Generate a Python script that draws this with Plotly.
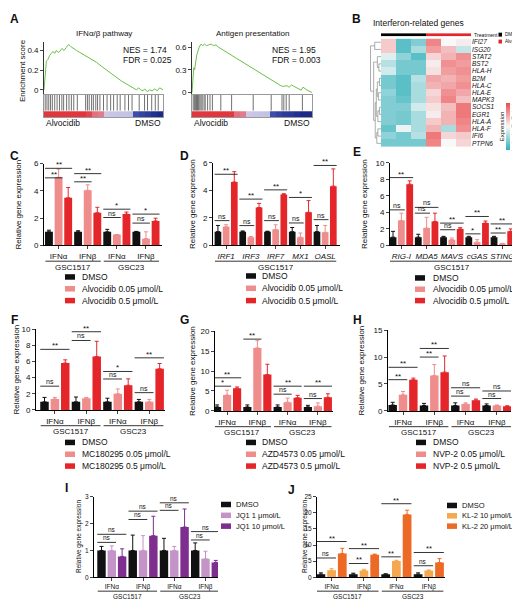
import plotly.graph_objects as go

W, H = 520, 599
FONT = 'Liberation Sans, Arial, sans-serif'

# ---------------- data ----------------
# A: GSEA running enrichment score (rank position in %, ES) and hit positions
ifn_pos = [0, 0.6, 1.4, 2.0, 3.4, 4.8, 6.2, 7.6, 9.0, 10.4, 11.8, 13.2, 15.1, 16.8, 18.8, 20.7, 22.4, 24.4,
           27.2, 30.0, 32.8, 34.7, 37.0, 39.8, 44.0, 48.2, 53.8, 59.4, 65.0, 70.6, 74.8, 77.6, 79.6, 81.2,
           83.2, 84.6, 86.8, 88.8, 90.8, 93.0, 95.2, 97.2, 100]
ifn_es = [0, 0.08, 0.25, 0.29, 0.31, 0.35, 0.37, 0.39, 0.37, 0.40, 0.38, 0.39, 0.42, 0.40, 0.43, 0.46, 0.44, 0.42,
          0.40, 0.38, 0.36, 0.34, 0.33, 0.31, 0.28, 0.24, 0.19, 0.14, 0.09, 0.05, 0.02, 0.0, 0.02, 0.0,
          -0.01, 0.01, -0.02, 0.0, -0.01, 0.01, -0.01, 0.02, 0.0]
ifn_hits = [1, 2.5, 4, 5.5, 7, 9, 11, 13, 15, 16.5, 19, 21, 23, 25, 28, 35, 36.5, 38, 40, 41.5, 43.5, 45, 47,
            50, 53, 56, 58.5, 61.5, 64, 68, 71, 74, 80, 84.5, 87, 90.5, 93.5, 96]
ifn_rank = [3, 3, 3, 3, 3, 3, 3, 2.2, 1.2, 1.0, -0.6, -0.7, -0.8, -0.8, -0.9, -2.0, -2.3, -2.5, -2.8, -3]

ag_pos = [0, 0.8, 1.5, 2.2, 3, 4, 5, 6, 7.5, 9, 10.5, 12, 14, 16, 18, 20, 22, 25, 30, 35, 40, 45, 50, 55,
          60, 65, 70, 74, 76, 79, 81, 83, 85, 88, 91, 92.5, 96, 100]
ag_es = [0, 0.2, 0.33, 0.3, 0.42, 0.5, 0.55, 0.6, 0.64, 0.62, 0.64, 0.62, 0.63, 0.64, 0.62, 0.63, 0.6, 0.57,
         0.52, 0.47, 0.42, 0.37, 0.32, 0.27, 0.22, 0.17, 0.12, 0.09, 0.08, 0.09, 0.07, 0.1, 0.08, 0.05, 0.03,
         0.07, 0.03, 0]
ag_hits = [1, 2, 3, 3.8, 4.6, 5.5, 6.5, 7.5, 8.5, 10, 11, 13, 15, 17, 24, 33, 51, 66, 75, 76.5, 78.5, 81, 92]
ag_rank = [3, 3, 3, 3, 3, 3, 2.8, 1.2, 1.0, -0.6, -0.7, -0.8, -0.9, -2.0, -2.3, -2.5, -2.6, -2.8, -3, -3]

# B: heatmap
genes = ['IFI27', 'ISG20', 'STAT2', 'BST2', 'HLA-H', 'B2M', 'HLA-C', 'HLA-E', 'MAPK3', 'SOCS1', 'EGR1',
         'HLA-A', 'HLA-F', 'IFI6', 'PTPN6']
treatment = [0, 0, 0, 1, 1, 1]
expr = [
    [0.4, -1.2, -0.9, 1.0, 0.0, 0.1],
    [0.4, -1.2, -0.6, 0.8, 0.5, -0.4],
    [-0.2, -0.8, -1.2, 0.3, 0.6, 0.9],
    [-0.5, -1.0, -1.0, 0.1, 0.9, 0.8],
    [-0.3, -1.0, -1.0, 0.2, 0.8, 0.9],
    [-1.0, -1.2, -0.5, 0.7, 0.6, 0.8],
    [-1.0, -1.2, -0.6, 0.6, 0.7, 0.9],
    [-0.8, -1.2, -0.6, 0.3, 0.9, 0.7],
    [-0.9, -1.1, -0.6, 0.4, 1.0, 0.5],
    [-0.9, -0.9, -0.3, 0.2, 0.5, 1.1],
    [-0.9, -1.0, -0.6, 0.1, 0.6, 1.1],
    [-0.9, -1.0, -0.6, 0.4, 0.6, 1.0],
    [-1.1, -0.1, -0.6, 0.6, -0.6, 0.9],
    [-0.8, -1.0, -0.5, 1.1, 0.3, 0.4],
    [-1.0, -1.0, -1.0, 1.0, 0.0, 0.3],
]
# row clustering (a, b, height) - ids >= 15 are earlier merges
merges = [(3, 4, 0.2), (2, 15, 0.35), (5, 6, 0.15), (7, 8, 0.25), (17, 18, 0.35), (9, 10, 0.15),
          (20, 11, 0.3), (19, 21, 0.45), (12, 13, 0.3), (23, 14, 0.4), (22, 24, 0.55), (16, 25, 0.7),
          (0, 1, 0.6), (27, 26, 1.0)]
cbar_ticks = [-1.5, -1, -0.5, 0, 0.5, 1, 1.5]
cbar_text = ['-1.5', '-1', '-0.5', '0', '0.5', '1', '1.5']

ifn_cats = ['IFNα', 'IFNβ', 'IFNα', 'IFNβ']
two_lines = [('GSC1517', [0, 1]), ('GSC23', [2, 3])]

# C
c_dmso, c_dmso_e = [1.0, 1.0, 1.0, 1.0], [0.12, 0.08, 0.18, 0.03]
c_low, c_low_e = [5.0, 4.05, 0.8, 0.5], [0.6, 0.4, 0.0, 0.5]
c_high, c_high_e = [3.5, 2.4, 2.3, 1.8], [0.75, 0.4, 0.15, 0.2]
c_sig = [(0, 0, 1, 4.96, '**'), (0, 0, 2, 5.66, '**'), (1, 0, 1, 4.67, '**'), (1, 0, 2, 5.27, '**'),
         (2, 0, 1, 2.05, 'ns'), (2, 0, 2, 2.66, '*'), (3, 0, 1, 1.64, 'ns'), (3, 0, 2, 2.3, '*')]

# D
d_cats = ['IRF1', 'IRF3', 'IRF7', 'MX1', 'OASL']
d_dmso, d_dmso_e = [1, 1, 1, 1, 1], [0.45, 0.05, 0.03, 0.3, 0.45]
d_low, d_low_e = [1.35, 0.6, 1.15, 0.6, 0.95], [0.15, 0.05, 0.35, 0.3, 0.5]
d_high, d_high_e = [4.6, 2.75, 3.7, 2.4, 4.3], [0.75, 0.3, 0.05, 0.85, 1.25]
d_sig = [(0, 0, 1, 1.8, 'ns'), (0, 0, 2, 5.16, '**'), (1, 0, 1, 1.44, 'ns'), (1, 0, 2, 3.36, '**'),
         (2, 0, 1, 1.8, 'ns'), (2, 0, 2, 4.03, '**'), (3, 0, 1, 1.63, 'ns'), (3, 0, 2, 3.48, '*'),
         (4, 0, 1, 1.87, 'ns'), (4, 0, 2, 5.8, '**')]

# E
e_cats = ['RIG-I', 'MDA5', 'MAVS', 'cGAS', 'STING']
e_dmso, e_dmso_e = [1, 1, 1, 1, 1], [0.7, 0.35, 0.1, 0.1, 0.1]
e_low, e_low_e = [3.0, 2.1, 0.7, 0.4, 0.2], [0.9, 1.3, 0.2, 0.3, 0.05]
e_high, e_high_e = [7.4, 2.9, 2.0, 2.7, 1.7], [0.4, 1.0, 0.15, 0.25, 0.3]
e_sig = [(0, 0, 1, 4.3, 'ns'), (0, 0, 2, 8.2, '**'), (1, 0, 1, 3.9, 'ns'), (1, 0, 2, 4.6, 'ns'),
         (2, 0, 1, 1.9, 'ns'), (2, 0, 2, 2.7, '**'), (3, 0, 1, 1.4, '*'), (3, 0, 2, 3.5, '**'),
         (4, 0, 1, 1.5, '**'), (4, 0, 2, 2.6, '**')]

# F
f_dmso, f_dmso_e = [1, 1, 1, 1], [0.55, 0.6, 0.45, 0.3]
f_low, f_low_e = [1.35, 1.45, 2.0, 1.0], [0.2, 0.1, 0.6, 0.3]
f_high, f_high_e = [5.8, 6.6, 3.05, 5.1], [0.4, 1.9, 0.8, 0.65]
f_sig = [(0, 0, 1, 2.94, 'ns'), (0, 0, 2, 7.5, '**'), (1, 0, 1, 8.6, 'ns'), (1, 0, 2, 9.68, '**'),
         (2, 0, 1, 3.83, 'ns'), (2, 0, 2, 4.76, '*'), (3, 0, 1, 2.14, 'ns'), (3, 0, 2, 6.45, '**')]

# G
g_dmso, g_dmso_e = [1, 1, 1, 1], [0.5, 0.5, 0.5, 0.4]
g_low, g_low_e = [4.0, 15.8, 2.2, 1.2], [1.2, 1.8, 1.0, 0.8]
g_high, g_high_e = [5.7, 9.1, 3.3, 3.4], [0.3, 2.6, 0.6, 0.9]
g_sig = [(0, 0, 1, 6.2, '*'), (0, 0, 2, 8.3, '**'), (1, 0, 1, 18.0, '**'), (1, 0, 2, 20.2, '**'),
         (2, 0, 1, 4.2, 'ns'), (2, 0, 2, 6.2, '**'), (3, 0, 1, 3.1, 'ns'), (3, 0, 2, 6.2, '**')]

# H
h_dmso, h_dmso_e = [1.1, 1.0, 1.0, 1.0], [0.5, 0.4, 0.5, 0.3]
h_low, h_low_e = [3.0, 6.6, 1.3, 1.0], [0.6, 2.0, 0.2, 0.1]
h_high, h_high_e = [5.8, 7.2, 2.0, 0.85], [0.3, 3.0, 0.2, 0.1]
h_sig = [(0, 0, 1, 5.8, '**'), (0, 0, 2, 8.1, '**'), (1, 0, 1, 10.0, '**'), (1, 0, 2, 11.6, '**'),
         (2, 0, 1, 2.75, 'ns'), (2, 0, 2, 4.3, 'ns'), (3, 0, 1, 2.3, 'ns'), (3, 0, 2, 3.7, 'ns')]

# I
i_dmso, i_dmso_e = [1, 1, 1, 1], [0.15, 0.57, 0.45, 0.28]
i_low, i_low_e = [1.0, 1.0, 1.0, 0.69], [0.17, 0.55, 0.15, 0.28]
i_high, i_high_e = [0.78, 1.55, 1.87, 0.55], [0.28, 0.72, 0.67, 0.08]
i_sig = [(0, 0, 1, 1.3, 'ns'), (0, 0, 2, 1.6, 'ns'), (1, 0, 1, 2.15, 'ns'), (1, 0, 2, 2.46, 'ns'),
         (2, 0, 1, 2.49, 'ns'), (2, 0, 2, 2.77, 'ns'), (3, 0, 1, 1.39, 'ns'), (3, 0, 2, 1.70, 'ns')]

# J
j_dmso, j_dmso_e = [1, 1, 1, 1], [0.4, 0.3, 0.1, 0.4]
j_low, j_low_e = [2.2, 2.1, 5.1, 2.1], [0.5, 0.4, 0.2, 0.2]
j_high, j_high_e = [7.4, 7.0, 19.5, 4.6], [1.6, 0.2, 1.3, 1.2]
j_sig = [(0, 0, 1, 6.0, 'ns'), (0, 0, 2, 11.1, '**'), (1, 0, 1, 4.3, '**'), (1, 0, 2, 8.9, '**'),
         (2, 0, 1, 6.35, '**'), (2, 0, 2, 22.8, '**'), (3, 0, 1, 3.6, 'ns'), (3, 0, 2, 7.7, '**')]

BLACK, PINK, RED = '#111111', '#ef8c8c', '#e4262b'
LPURP, PURP = '#c494c8', '#7d2e8e'
LORG, DORG = '#f5a850', '#ed6a26'


def px(x):
    return x / W


def py(y):
    return 1 - y / H


fig = go.Figure()
lay = {}
ann = []
shp = []


def text(x, y, s, size=8, xanchor='center', yanchor='middle', angle=0, bold=False, italic=False):
    if bold:
        s = '<b>' + s + '</b>'
    if italic:
        s = '<i>' + s + '</i>'
    ann.append(dict(x=px(x), y=py(y), xref='paper', yref='paper', text=s, showarrow=False,
                    xanchor=xanchor, yanchor=yanchor, textangle=angle, font=dict(size=size)))


# ---------------- panel A ----------------
def gsea(k, xd, title, pos, es, hits, rank, yr, ytv, nes, fdr):
    xa, ya, xb, yb = f'x{k}', f'y{k}', f'x{k+1}', f'y{k+1}'
    lay[f'xaxis{k}'] = dict(domain=[px(xd[0]), px(xd[1])], range=[0, 100], anchor=ya, visible=False)
    lay[f'yaxis{k}'] = dict(domain=[py(83), py(30)], range=yr, anchor=xa, tickvals=ytv, ticks='outside',
                            ticklen=3, showline=True, linecolor='#333', linewidth=0.8, showgrid=False,
                            zeroline=False, tickfont=dict(size=8))
    fig.add_trace(go.Scatter(x=pos, y=es, mode='lines', line=dict(color='#6cbf4a', width=1),
                             xaxis=xa, yaxis=ya, showlegend=False))
    lay[f'xaxis{k+1}'] = dict(domain=[px(xd[0]), px(xd[1])], range=[0, 100], anchor=yb, showticklabels=False,
                              ticks='', showline=True, mirror=True, linecolor='#999', linewidth=0.6,
                              showgrid=False, zeroline=False)
    lay[f'yaxis{k+1}'] = dict(domain=[py(107), py(84)], range=[0, 1], anchor=xb, showticklabels=False,
                              ticks='', showline=True, mirror=True, linecolor='#999', linewidth=0.6,
                              showgrid=False, zeroline=False)
    hx, hy = [], []
    for h in hits:
        hx += [h, h, None]
        hy += [0.3, 1, None]
    fig.add_trace(go.Scatter(x=hx, y=hy, mode='lines', line=dict(color='#333', width=0.7),
                             xaxis=xb, yaxis=yb, showlegend=False))
    n = len(rank)
    fig.add_trace(go.Heatmap(z=[rank], x=[100 * i / n for i in range(n + 1)], y=[0, 0.27], zmin=-3, zmax=3,
                             colorscale=[[0, '#1a2a88'], [0.17, '#3d4fae'], [0.3, '#b4bde0'],
                                         [0.4, '#cdc8e6'], [0.55, '#e9a3bf'], [0.8, '#e24a55'],
                                         [1, '#e2353c']],
                             showscale=False, xaxis=xb, yaxis=yb, hoverinfo='skip'))
    mid = (xd[0] + xd[1]) / 2
    text(mid, 22, title, 8)
    text(xd[1] - 42, 39, nes, 8.5, xanchor='left')
    text(xd[1] - 42, 49, fdr, 8.5, xanchor='left')
    text(xd[0], 113, 'Alvocidib', 8.5, xanchor='left')
    text(xd[1], 113, 'DMSO', 8.5, xanchor='right')


gsea(1, (36, 155), 'IFNα/β pathway', ifn_pos, ifn_es, ifn_hits, ifn_rank, [-0.04, 0.49], [0, 0.2, 0.4],
     'NES = 1.74', 'FDR = 0.025')
gsea(3, (184, 304), 'Antigen presentation', ag_pos, ag_es, ag_hits, ag_rank, [-0.017, 0.674], [0, 0.3, 0.6],
     'NES = 1.95', 'FDR = 0.003')
text(14, 60, 'Enrichment score', 8, angle=-90)

# ---------------- panel B ----------------
lay['xaxis5'] = dict(domain=[px(373), px(463)], range=[-0.5, 5.5], anchor='y5', visible=False)
lay['yaxis5'] = dict(domain=[py(137), py(27)], range=[14.5, -0.5], anchor='x5', side='right',
                     tickvals=list(range(len(genes))), ticktext=['<i>' + g + '</i>' for g in genes],
                     ticks='', showgrid=False, zeroline=False, tickfont=dict(size=6.5))
fig.add_trace(go.Heatmap(z=expr, zmin=-1.5, zmax=1.5, xaxis='x5', yaxis='y5',
                         colorscale=[[0, '#33b1ba'], [0.5, '#f8f8f8'], [1, '#ea4b4e']],
                         colorbar=dict(x=px(498), xanchor='left', y=py(116), yanchor='middle',
                                       len=48 / H, ypad=0, xpad=0, thickness=3.5, outlinewidth=0, ticks='',
                                       tickvals=cbar_ticks, ticktext=cbar_text, tickfont=dict(size=5))))
text(494, 116, 'Expression', 6, angle=-90)

# dendrogram
lay['xaxis6'] = dict(domain=[px(362), px(373)], range=[1.05, 0], anchor='y6', visible=False)
lay['yaxis6'] = dict(domain=[py(137), py(27)], range=[14.5, -0.5], anchor='x6', visible=False)
pos_d = {i: i for i in range(len(genes))}
hgt = {i: 0 for i in range(len(genes))}
dx, dy = [], []
for m, (a, b, h) in enumerate(merges):
    for c in (a, b):
        dx += [hgt[c], h, None]
        dy += [pos_d[c], pos_d[c], None]
    dx += [h, h, None]
    dy += [pos_d[a], pos_d[b], None]
    cid = len(genes) + m
    pos_d[cid] = (pos_d[a] + pos_d[b]) / 2
    hgt[cid] = h
fig.add_trace(go.Scatter(x=dx, y=dy, mode='lines', line=dict(color='#777', width=0.6),
                         xaxis='x6', yaxis='y6', showlegend=False))

# treatment bar
lay['xaxis7'] = dict(domain=[px(373), px(463)], range=[-0.5, 5.5], anchor='y7', visible=False)
lay['yaxis7'] = dict(domain=[py(25), py(21.5)], range=[-0.5, 0.5], anchor='x7', visible=False)
fig.add_trace(go.Heatmap(z=[treatment], colorscale=[[0, '#000000'], [1, '#e4262b']], showscale=False,
                         xaxis='x7', yaxis='y7'))
text(464, 23.5, 'Treatment', 5.2, xanchor='left')
text(410, 11, 'Interferon-related genes', 8.5)
for yy, col, lab in [(23, '#000000', 'DMSO'), (30, '#e4262b', 'Alvocidib')]:
    shp.append(dict(type='rect', xref='paper', yref='paper', x0=px(490.5), x1=px(494), y0=py(yy + 2),
                    y1=py(yy - 2), fillcolor=col, line=dict(width=0)))
    text(494.5, yy, lab, 4.6, xanchor='left')

# ---------------- bar panels ----------------
BW, OFF = 0.27, 0.33
offs = [-OFF, 0, OFF]


def bar_panel(k, xd, yd, xr, yr, ytv, cats, series, sigs, groups, leg, ytx, fs=8, under=(16, 22),
              italic=False, sfs=7):
    xa, ya = f'x{k}', f'y{k}'
    n = len(cats)
    tt = ['<i>' + c + '</i>' for c in cats] if italic else cats
    lay[f'xaxis{k}'] = dict(domain=[px(xd[0]), px(xd[1])], range=xr, anchor=ya, tickvals=list(range(n)),
                            ticktext=tt, ticks='outside', ticklen=3, showline=True, linecolor='black',
                            linewidth=1, showgrid=False, zeroline=False, tickfont=dict(size=fs), tickangle=0)
    lay[f'yaxis{k}'] = dict(domain=[py(yd[1]), py(yd[0])], range=yr, anchor=xa, tickvals=ytv,
                            ticks='outside', ticklen=3, showline=True, linecolor='black', linewidth=1,
                            showgrid=False, zeroline=False, tickfont=dict(size=fs))
    for (name, vals, errs, col), o in zip(series, offs):
        fig.add_trace(go.Bar(x=[i + o for i in range(n)], y=vals, width=BW, name=name,
                             marker=dict(color=col, line=dict(width=0)),
                             error_y=dict(type='data', symmetric=False, array=errs, arrayminus=[0] * n,
                                          color=col, thickness=1, width=2),
                             xaxis=xa, yaxis=ya, showlegend=False))
    for g, i, j, h, s in sigs:
        a0 = g + offs[i] - BW / 2
        a1 = g + offs[j] + BW / 2
        shp.append(dict(type='line', xref=xa, yref=ya, x0=a0, x1=a1, y0=h, y1=h,
                        line=dict(color='black', width=0.8)))
        ann.append(dict(xref=xa, yref=ya, x=(a0 + a1) / 2, y=h, text=s, showarrow=False, yanchor='bottom',
                        yshift=-3 if s != 'ns' else -1, font=dict(size=sfs if s == 'ns' else sfs + 1)))
    for name, gs in groups:
        shp.append(dict(type='line', xref=xa, yref='paper', x0=gs[0] - 0.45, x1=gs[-1] + 0.45,
                        y0=py(yd[1] + under[0]), y1=py(yd[1] + under[0]), line=dict(color='black', width=0.8)))
        ann.append(dict(xref=xa, yref='paper', x=(gs[0] + gs[-1]) / 2, y=py(yd[1] + under[1]), text=name,
                        showarrow=False, yanchor='middle', font=dict(size=fs)))
    sx, tx, y0, dy_, lfs = leg
    for r, (name, vals, errs, col) in enumerate(series):
        yy = y0 + r * dy_
        shp.append(dict(type='rect', xref='paper', yref='paper', x0=px(sx - 5), x1=px(sx + 5),
                        y0=py(yy + 2.8), y1=py(yy - 2.8), fillcolor=col, line=dict(width=0)))
        text(tx, yy, name, lfs, xanchor='left')
    text(ytx, (yd[0] + yd[1]) / 2, 'Relative gene expression', fs, angle=-90)


alv = ['DMSO', 'Alvocidib 0.05 μmol/L', 'Alvocidib 0.5 μmol/L']

bar_panel(8, (36, 154), (154, 237), [-0.5, 3.55], [0, 6], [0, 2, 4, 6], ifn_cats,
          [(alv[0], c_dmso, c_dmso_e, BLACK), (alv[1], c_low, c_low_e, PINK), (alv[2], c_high, c_high_e, RED)],
          c_sig, two_lines, (62, 72, 269, 12, 8.5), 11)
bar_panel(9, (205, 332), (153, 237), [-0.53, 4.6], [0, 6], [0, 2, 4, 6], d_cats,
          [(alv[0], d_dmso, d_dmso_e, BLACK), (alv[1], d_low, d_low_e, PINK), (alv[2], d_high, d_high_e, RED)],
          d_sig, [('GSC1517', [0, 4])], (243, 252, 268, 12.5, 8.5), 184, italic=True)
bar_panel(10, (382, 507), (153, 237), [-0.45, 4.5], [0, 10], [0, 2, 4, 6, 8, 10], e_cats,
          [(alv[0], e_dmso, e_dmso_e, BLACK), (alv[1], e_low, e_low_e, PINK), (alv[2], e_high, e_high_e, RED)],
          e_sig, [('GSC1517', [0, 4])], (412, 423, 270, 11.5, 8.5), 356, italic=True)
bar_panel(11, (28, 157), (322, 404), [-0.6, 3.5], [0, 10], [0, 2, 4, 6, 8, 10], ifn_cats,
          [('DMSO', f_dmso, f_dmso_e, BLACK), ('MC180295 0.05 μmol/L', f_low, f_low_e, PINK),
           ('MC180295 0.5 μmol/L', f_high, f_high_e, RED)],
          f_sig, two_lines, (62, 72, 437, 12, 8.5), 9)
bar_panel(12, (207, 325), (324, 405), [-0.4, 3.5], [0, 20], [0, 5, 10, 15, 20], ifn_cats,
          [('DMSO', g_dmso, g_dmso_e, BLACK), ('AZD4573 0.05 μmol/L', g_low, g_low_e, PINK),
           ('AZD4573 0.5 μmol/L', g_high, g_high_e, RED)],
          g_sig, two_lines, (243, 252, 437, 12, 8.5), 184)
bar_panel(13, (380, 503), (323, 405), [-0.48, 3.45], [0, 15], [0, 5, 10, 15], ifn_cats,
          [('DMSO', h_dmso, h_dmso_e, BLACK), ('NVP-2 0.05 μmol/L', h_low, h_low_e, PINK),
           ('NVP-2 0.5 μmol/L', h_high, h_high_e, RED)],
          h_sig, two_lines, (413, 423, 437, 12, 8.5), 354)
bar_panel(14, (86, 210), (492, 574), [-0.57, 3.4], [0, 3], [0, 1, 2, 3], ifn_cats,
          [('DMSO', i_dmso, i_dmso_e, BLACK), ('JQ1 1 μmol/L', i_low, i_low_e, LPURP),
           ('JQ1 10 μmol/L', i_high, i_high_e, PURP)],
          i_sig, two_lines, (218, 226, 500, 11, 7.5), 71, fs=6.5, under=(14, 19.5), sfs=6.5)
bar_panel(15, (309, 437), (492, 574), [-0.45, 3.5], [0, 25], [0, 5, 10, 15, 20, 25], ifn_cats,
          [('DMSO', j_dmso, j_dmso_e, BLACK), ('KL-2 10 μmol/L', j_low, j_low_e, LORG),
           ('KL-2 20 μmol/L', j_high, j_high_e, DORG)],
          j_sig, two_lines, (444, 452, 501, 10.5, 7.5), 297, fs=6.5, under=(14, 19.5), sfs=6.5)

# panel letters
for lab, x, y in [('A', 6, 7), ('B', 348, 7), ('C', 6, 146), ('D', 176, 146), ('E', 349, 142),
                  ('F', 6, 313), ('G', 176, 313), ('H', 349, 313), ('I', 58, 483), ('J', 283, 485)]:
    text(x, y, lab, 12, bold=True)

fig.update_layout(width=W, height=H, margin=dict(l=0, r=0, t=0, b=0), plot_bgcolor='white',
                  paper_bgcolor='white', font=dict(family=FONT, color='#111'), showlegend=False,
                  barmode='overlay', annotations=ann, shapes=shp, **lay)
fig.write_html('out.html')
